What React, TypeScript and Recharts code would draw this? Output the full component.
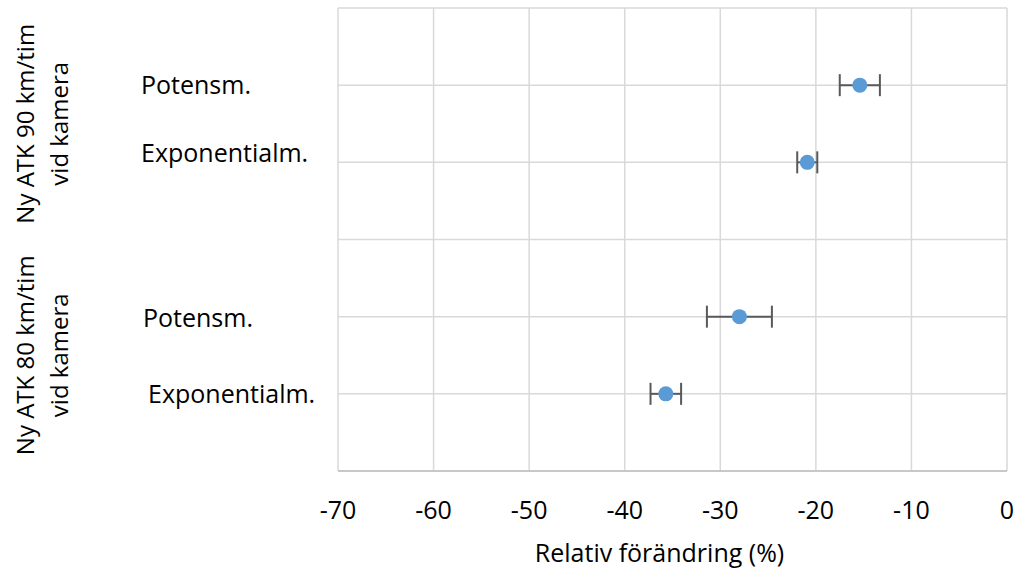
import React from 'react';
import { ScatterChart, Scatter, XAxis, YAxis, CartesianGrid, ErrorBar } from 'recharts';

// Data
const categories = ['Potensm.', 'Exponentialm.', 'Potensm.', 'Exponentialm.'];
const rowIndex = [5, 4, 2, 1];
const values = [-15.4, -20.9, -28.0, -35.7];
const errors = [2.1, 1.05, 3.4, 1.6];
const groupLabels = [
  ['Ny ATK 90 km/tim', 'vid kamera'],
  ['Ny ATK 80 km/tim', 'vid kamera'],
];
const groupCenters = [4.5, 1.5];
const xTicks = [-70, -60, -50, -40, -30, -20, -10, 0];
const gridRows = [0, 1, 2, 3, 4, 5, 6];
const xLabel = 'Relativ förändring (%)';

const data = categories.map((c, i) => ({ name: c, row: rowIndex[i], value: values[i], err: errors[i] }));

// Style
const FONT = '"Open Sans", sans-serif';
const FS = 25;
const GFS = 24;
const labelDx = [0, 0, 2, 7];
const labelDy = [0, -9, 1, 0];

const XTick = (props: any) => {
  const { x, y, payload } = props;
  return (
    <text x={x} y={y + 48} textAnchor="middle" fill="#000" fontSize={FS} fontFamily={FONT}>
      {payload.value}
    </text>
  );
};

const YTick = (props: any) => {
  const { x, y, payload } = props;
  const v = payload.value;
  const ci = rowIndex.indexOf(v);
  if (ci >= 0) {
    return (
      <text x={x - 197 + labelDx[ci]} y={y + 9 + labelDy[ci]} textAnchor="start" fill="#000" fontSize={FS} fontFamily={FONT}>
        {categories[ci]}
      </text>
    );
  }
  const gi = groupCenters.indexOf(v);
  if (gi >= 0) {
    const lines = groupLabels[gi];
    return (
      <g>
        {lines.map((ln, k) => {
          const cx = 34 + k * 34;
          return (
            <text key={k} x={cx} y={y} transform={`rotate(-90, ${cx}, ${y})`} textAnchor="middle" fill="#000" fontSize={GFS} fontFamily={FONT}>
              {ln}
            </text>
          );
        })}
      </g>
    );
  }
  return null;
};

const Dot = (props: any) => <circle cx={props.cx} cy={props.cy} r={7.5} fill="#5B9BD5" />;

export default function App() {
  return (
    <div style={{ position: 'absolute', left: 0, top: 0, fontFamily: FONT }}>
      <ScatterChart width={1021} height={568} margin={{ top: 8, right: 14, left: 0, bottom: 0 }}>
        <CartesianGrid stroke="#D9D9D9" strokeWidth={1.5} horizontalValues={gridRows} verticalValues={xTicks} />
        <XAxis
          type="number"
          dataKey="value"
          domain={[-70, 0]}
          ticks={xTicks}
          height={97}
          tickSize={0}
          tickMargin={0}
          tickLine={false}
          axisLine={{ stroke: '#BFBFBF', strokeWidth: 1.5 }}
          tick={<XTick />}
          interval={0}
          label={{
            content: (p: any) => {
              const vb = p.viewBox;
              return (
                <text x={vb.x + vb.width / 2 - 13} y={562} textAnchor="middle" fill="#000" fontSize={FS} fontFamily={FONT}>
                  {xLabel}
                </text>
              );
            },
          }}
        />
        <YAxis
          type="number"
          dataKey="row"
          domain={[0, 6]}
          ticks={[1, 1.5, 2, 4, 4.5, 5]}
          width={338}
          tickSize={0}
          tickMargin={0}
          tickLine={false}
          axisLine={false}
          tick={<YTick />}
          interval={0}
        />
        <Scatter data={data} shape={<Dot />} isAnimationActive={false}>
          <ErrorBar dataKey="err" direction="x" width={11} stroke="#595959" strokeWidth={2} isAnimationActive={false} />
        </Scatter>
      </ScatterChart>
    </div>
  );
}
